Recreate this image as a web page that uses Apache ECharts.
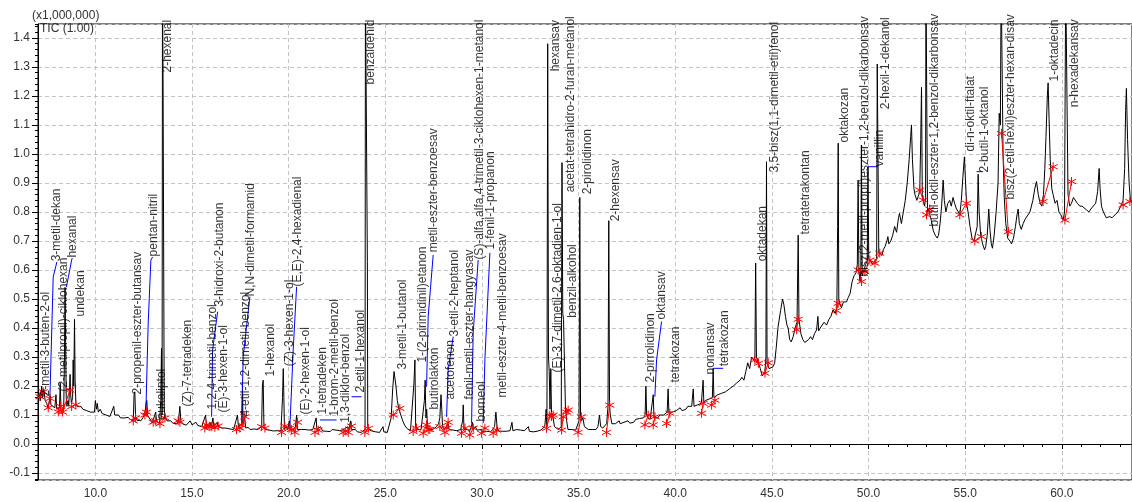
<!DOCTYPE html>
<html><head><meta charset="utf-8">
<script src="https://cdn.jsdelivr.net/npm/echarts@6/dist/echarts.min.js"></script>
<style>html,body{margin:0;padding:0;background:#fff}#c{width:1132px;height:502px}</style>
</head><body><div id="c"></div>
<script>
// Chromatogram trace: [retention time (min), intensity (x1,000,000)]
const trace = [
[7.03,0.158],[7.10,0.17],[7.16,0.15],[7.22,0.20],[7.27,0.16],[7.33,0.19],[7.40,0.15],[7.48,0.14],[7.55,0.125],[7.62,0.13],[7.66,0.165],[7.70,0.135],[7.80,0.13],[7.90,0.125],[7.96,0.17],[8.00,0.12],[8.08,0.115],[8.14,0.125],[8.18,0.21],[8.22,0.12],[8.30,0.11],[8.36,0.12],[8.40,0.30],[8.43,0.54],[8.46,0.35],[8.49,0.16],[8.53,0.13],[8.58,0.15],[8.62,0.13],[8.66,0.19],[8.69,0.24],[8.72,0.17],[8.76,0.14],[8.82,0.16],[8.85,0.29],[8.88,0.20],[8.92,0.43],[8.95,0.22],[8.99,0.14],[9.05,0.13],[9.15,0.125],[9.25,0.13],[9.35,0.12],[9.45,0.125],[9.55,0.115],[9.65,0.12],[9.75,0.11],[9.85,0.115],[9.95,0.11],[10.0,0.15],[10.05,0.12],[10.1,0.14],[10.15,0.11],[10.25,0.12],[10.35,0.105],[10.45,0.11],[10.55,0.10],[10.65,0.105],[10.75,0.095],[10.85,0.10],[10.95,0.13],[11.0,0.10],[11.1,0.095],[11.2,0.10],[11.3,0.09],[11.4,0.095],[11.5,0.09],[11.6,0.088],[11.7,0.092],[11.8,0.085],[11.9,0.088],[11.96,0.08],[12.0,0.17],[12.04,0.18],[12.08,0.09],[12.15,0.082],[12.25,0.085],[12.35,0.08],[12.45,0.09],[12.55,0.10],[12.62,0.14],[12.66,0.15],[12.70,0.10],[12.78,0.09],[12.85,0.085],[12.95,0.075],[13.05,0.08],[13.12,0.11],[13.16,0.08],[13.25,0.075],[13.32,0.07],[13.38,0.15],[13.42,0.33],[13.45,0.10],[13.47,1.6],[13.49,1.6],[13.50,1.26],[13.54,1.26],[13.56,0.12],[13.62,0.09],[13.70,0.08],[13.80,0.075],[13.90,0.08],[14.0,0.072],[14.1,0.075],[14.2,0.07],[14.3,0.08],[14.37,0.13],[14.42,0.08],[14.5,0.07],[14.6,0.072],[14.7,0.065],[14.8,0.07],[14.9,0.08],[15.0,0.066],[15.1,0.07],[15.2,0.075],[15.3,0.064],[15.4,0.068],[15.5,0.06],[15.6,0.062],[15.7,0.10],[15.74,0.065],[15.85,0.06],[15.92,0.075],[16.0,0.06],[16.08,0.09],[16.12,0.06],[16.2,0.058],[16.3,0.075],[16.35,0.06],[16.45,0.065],[16.55,0.055],[16.65,0.06],[16.75,0.055],[16.85,0.058],[16.95,0.052],[17.05,0.056],[17.15,0.05],[17.25,0.055],[17.35,0.10],[17.40,0.06],[17.5,0.055],[17.58,0.07],[17.61,0.20],[17.64,0.07],[17.72,0.09],[17.78,0.055],[17.9,0.058],[18.0,0.05],[18.1,0.055],[18.2,0.052],[18.3,0.056],[18.4,0.05],[18.5,0.055],[18.6,0.06],[18.64,0.20],[18.68,0.22],[18.72,0.06],[18.8,0.05],[18.9,0.055],[19.0,0.048],[19.1,0.052],[19.2,0.045],[19.3,0.05],[19.4,0.046],[19.5,0.05],[19.6,0.045],[19.68,0.16],[19.72,0.26],[19.75,0.16],[19.78,0.05],[19.85,0.06],[19.95,0.05],[20.03,0.08],[20.08,0.05],[20.15,0.048],[20.25,0.05],[20.35,0.06],[20.41,0.10],[20.45,0.05],[20.55,0.046],[20.65,0.05],[20.75,0.045],[20.85,0.05],[20.95,0.044],[21.05,0.048],[21.15,0.044],[21.25,0.05],[21.35,0.046],[21.42,0.09],[21.46,0.05],[21.55,0.048],[21.65,0.06],[21.75,0.045],[21.85,0.05],[21.95,0.044],[22.05,0.048],[22.15,0.043],[22.25,0.05],[22.35,0.044],[22.45,0.048],[22.55,0.042],[22.65,0.046],[22.75,0.042],[22.85,0.05],[22.95,0.044],[23.05,0.06],[23.1,0.045],[23.2,0.08],[23.25,0.05],[23.35,0.045],[23.45,0.05],[23.55,0.042],[23.65,0.046],[23.75,0.04],[23.85,0.045],[23.95,0.05],[23.97,1.6],[24.05,1.6],[24.07,0.63],[24.09,0.06],[24.15,0.05],[24.2,0.05],[24.3,0.045],[24.4,0.048],[24.5,0.042],[24.6,0.046],[24.7,0.04],[24.8,0.045],[24.88,0.06],[24.92,0.042],[25.0,0.044],[25.1,0.04],[25.2,0.045],[25.3,0.09],[25.38,0.19],[25.45,0.25],[25.5,0.255],[25.55,0.20],[25.62,0.15],[25.7,0.12],[25.8,0.10],[25.9,0.08],[26.0,0.065],[26.1,0.055],[26.2,0.05],[26.3,0.045],[26.4,0.05],[26.48,0.21],[26.53,0.29],[26.57,0.06],[26.65,0.05],[26.75,0.045],[26.85,0.05],[26.95,0.045],[27.02,0.15],[27.06,0.22],[27.1,0.09],[27.14,0.12],[27.18,0.06],[27.25,0.05],[27.35,0.055],[27.45,0.05],[27.55,0.055],[27.65,0.06],[27.75,0.07],[27.82,0.09],[27.88,0.17],[27.92,0.12],[27.96,0.06],[28.05,0.05],[28.15,0.055],[28.25,0.07],[28.3,0.05],[28.4,0.045],[28.5,0.048],[28.6,0.044],[28.7,0.046],[28.8,0.042],[28.9,0.05],[29.0,0.08],[29.03,0.135],[29.07,0.05],[29.15,0.045],[29.25,0.05],[29.35,0.042],[29.45,0.06],[29.5,0.075],[29.55,0.05],[29.65,0.06],[29.75,0.048],[29.85,0.044],[29.95,0.05],[30.05,0.042],[30.15,0.048],[30.25,0.044],[30.35,0.046],[30.45,0.042],[30.55,0.05],[30.65,0.06],[30.72,0.11],[30.78,0.06],[30.85,0.045],[30.95,0.05],[31.05,0.044],[31.15,0.048],[31.25,0.044],[31.35,0.05],[31.45,0.046],[31.55,0.075],[31.6,0.046],[31.7,0.044],[31.8,0.05],[31.9,0.044],[32.0,0.048],[32.1,0.042],[32.2,0.046],[32.3,0.044],[32.4,0.06],[32.45,0.044],[32.55,0.046],[32.65,0.042],[32.75,0.046],[32.85,0.044],[32.95,0.045],[33.05,0.048],[33.15,0.05],[33.25,0.06],[33.32,0.12],[33.36,0.06],[33.40,1.38],[33.44,0.30],[33.48,0.25],[33.52,0.12],[33.56,0.26],[33.6,0.10],[33.68,0.09],[33.75,0.06],[33.85,0.055],[33.95,0.05],[34.05,0.045],[34.1,0.06],[34.14,0.97],[34.18,0.45],[34.22,0.43],[34.28,0.43],[34.32,0.12],[34.38,0.08],[34.45,0.05],[34.55,0.045],[34.65,0.05],[34.75,0.045],[34.85,0.048],[34.95,0.05],[35.02,0.08],[35.06,0.85],[35.1,0.10],[35.15,0.08],[35.22,0.09],[35.3,0.06],[35.4,0.055],[35.5,0.05],[35.6,0.055],[35.7,0.05],[35.8,0.055],[35.9,0.05],[36.0,0.06],[36.08,0.10],[36.14,0.06],[36.25,0.055],[36.35,0.06],[36.45,0.07],[36.52,0.13],[36.56,0.77],[36.6,0.13],[36.64,0.10],[36.72,0.07],[36.8,0.065],[36.9,0.07],[37.0,0.065],[37.1,0.08],[37.15,0.07],[37.25,0.068],[37.35,0.075],[37.45,0.07],[37.55,0.08],[37.65,0.072],[37.75,0.078],[37.85,0.075],[37.95,0.085],[38.05,0.08],[38.15,0.088],[38.25,0.082],[38.35,0.09],[38.44,0.10],[38.48,0.20],[38.52,0.10],[38.58,0.09],[38.7,0.085],[38.8,0.09],[38.86,0.17],[38.9,0.09],[39.0,0.095],[39.1,0.09],[39.2,0.1],[39.3,0.095],[39.4,0.10],[39.5,0.1],[39.58,0.11],[39.63,0.19],[39.67,0.11],[39.75,0.105],[39.85,0.11],[39.95,0.105],[40.05,0.115],[40.15,0.11],[40.25,0.125],[40.35,0.115],[40.45,0.12],[40.55,0.12],[40.65,0.13],[40.75,0.125],[40.85,0.13],[40.93,0.19],[40.97,0.13],[41.05,0.13],[41.15,0.135],[41.25,0.14],[41.35,0.14],[41.44,0.22],[41.48,0.14],[41.55,0.15],[41.65,0.145],[41.75,0.155],[41.85,0.15],[41.92,0.16],[41.96,0.26],[42.0,0.16],[42.1,0.16],[42.2,0.17],[42.3,0.165],[42.4,0.175],[42.5,0.17],[42.6,0.18],[42.7,0.175],[42.8,0.19],[42.9,0.185],[43.0,0.2],[43.1,0.195],[43.17,0.21],[43.25,0.205],[43.35,0.22],[43.45,0.23],[43.55,0.22],[43.65,0.25],[43.75,0.28],[43.85,0.26],[43.95,0.30],[44.05,0.29],[44.12,0.30],[44.16,0.624],[44.2,0.30],[44.3,0.28],[44.4,0.26],[44.5,0.235],[44.56,0.23],[44.64,0.25],[44.69,0.30],[44.72,0.973],[44.75,0.28],[44.85,0.26],[44.95,0.255],[45.05,0.266],[45.14,0.278],[45.22,0.33],[45.32,0.405],[45.45,0.46],[45.55,0.50],[45.62,0.48],[45.7,0.44],[45.78,0.41],[45.84,0.40],[45.92,0.36],[46.0,0.352],[46.1,0.37],[46.2,0.40],[46.3,0.42],[46.36,0.72],[46.4,0.43],[46.5,0.38],[46.6,0.36],[46.7,0.35],[46.79,0.347],[46.9,0.36],[47.0,0.37],[47.1,0.36],[47.2,0.38],[47.31,0.393],[47.38,0.44],[47.42,0.39],[47.5,0.40],[47.6,0.395],[47.7,0.42],[47.83,0.41],[47.95,0.43],[48.05,0.44],[48.16,0.462],[48.28,0.45],[48.36,0.47],[48.40,0.75],[48.43,1.037],[48.46,0.50],[48.52,0.48],[48.6,0.47],[48.7,0.49],[48.86,0.49],[48.95,0.505],[49.05,0.52],[49.15,0.56],[49.25,0.58],[49.35,0.59],[49.42,0.62],[49.46,0.91],[49.5,0.60],[49.56,0.56],[49.6,0.60],[49.63,1.03],[49.67,0.58],[49.76,0.60],[49.85,0.62],[49.93,0.63],[49.97,0.955],[50.01,0.64],[50.1,0.63],[50.2,0.62],[50.3,0.625],[50.42,0.64],[50.45,1.31],[50.5,1.31],[50.53,0.66],[50.6,0.66],[50.7,0.65],[50.76,0.67],[50.85,0.68],[50.95,0.70],[51.0,0.715],[51.05,0.69],[51.15,0.70],[51.25,0.72],[51.35,0.75],[51.45,0.73],[51.55,0.78],[51.6,0.795],[51.7,0.76],[51.8,0.80],[51.9,0.84],[52.0,0.90],[52.1,0.98],[52.18,1.06],[52.22,1.10],[52.27,0.98],[52.35,0.88],[52.4,0.86],[52.5,0.84],[52.6,0.86],[52.65,0.88],[52.7,1.05],[52.74,1.23],[52.78,0.86],[52.83,0.84],[52.9,0.82],[52.95,0.85],[52.97,1.6],[53.02,1.6],[53.05,0.80],[53.1,0.81],[53.17,0.81],[53.25,0.77],[53.35,0.735],[53.45,0.72],[53.55,0.71],[53.62,0.72],[53.7,0.76],[53.78,0.82],[53.86,0.91],[53.92,0.84],[54.0,0.80],[54.1,0.83],[54.2,0.84],[54.28,0.82],[54.37,0.85],[54.45,0.83],[54.55,0.81],[54.65,0.80],[54.72,0.79],[54.8,0.84],[54.88,0.92],[54.96,0.99],[55.02,0.90],[55.07,0.83],[55.15,0.80],[55.25,0.75],[55.35,0.71],[55.45,0.70],[55.55,0.70],[55.62,0.75],[55.67,0.93],[55.72,0.80],[55.8,0.72],[55.84,0.715],[55.9,0.69],[56.0,0.67],[56.06,0.68],[56.14,0.72],[56.22,0.81],[56.28,0.74],[56.35,0.69],[56.41,0.675],[56.5,0.72],[56.6,0.80],[56.7,0.90],[56.76,1.14],[56.82,1.10],[56.86,1.6],[56.92,1.6],[56.96,1.0],[57.02,0.85],[57.1,0.76],[57.2,0.71],[57.31,0.70],[57.4,0.69],[57.5,0.71],[57.6,0.75],[57.68,0.79],[57.74,0.81],[57.8,0.76],[57.9,0.74],[58.0,0.76],[58.1,0.775],[58.2,0.78],[58.35,0.80],[58.5,0.84],[58.6,0.88],[58.69,0.905],[58.78,0.86],[58.88,0.83],[58.96,0.82],[59.05,0.86],[59.12,0.95],[59.18,1.06],[59.25,1.20],[59.29,1.245],[59.34,1.12],[59.4,0.98],[59.48,0.88],[59.55,0.86],[59.65,0.83],[59.75,0.84],[59.85,0.80],[59.95,0.79],[60.07,0.772],[60.14,0.80],[60.2,1.6],[60.28,1.6],[60.32,0.86],[60.41,0.82],[60.5,0.83],[60.6,0.85],[60.7,0.845],[60.8,0.83],[60.93,0.82],[61.05,0.82],[61.15,0.815],[61.28,0.807],[61.4,0.80],[61.5,0.81],[61.6,0.81],[61.75,0.83],[61.85,0.87],[61.93,0.95],[61.98,0.88],[62.05,0.82],[62.15,0.80],[62.3,0.78],[62.4,0.775],[62.48,0.784],[62.6,0.78],[62.75,0.79],[62.9,0.80],[63.05,0.82],[63.17,0.84],[63.25,0.95],[63.3,1.15],[63.34,1.226],[63.4,1.05],[63.48,0.90],[63.55,0.84],[63.65,0.83]
];

// Peak labels: compound name, label anchor time, label anchor intensity (text starts here and runs upward)
const compoundNames = [
"2-metil-3-buten-2-ol","3-metil-dekan","(2-metilpropil)-ciklohexan","hexanal","undekan",
"2-propenil-eszter-butansav","pentan-nitril","eukaliptol","2-hexenal","(Z)-7-tetradeken",
"1,2,4-trimetil-benzol","(E)-3-hexen-1-ol","3-hidroxi-2-butanon","4-etil-1,2-dimetil-benzol","N,N-dimetil-formamid",
"1-hexanol","(Z)-3-hexen-1-ol","(E,E)-2,4-hexadienal","(E)-2-hexen-1-ol","1-tetradeken",
"1-brom-2-metil-benzol","1,3-diklor-benzol","2-etil-1-hexanol","benzaldehid","3-metil-1-butanol",
"1-(2-pirimidinil)etanon","butirolakton","metil-eszter-benzoesav","acetofenon","3-etil-2-heptanol",
"fenil-metil-eszter-hangyasav","(S)-alfa,alfa,4-trimetil-3-ciklohexen-1-metanol","borneol","1-fenil-1-propanon","metil-eszter-4-metil-benzoesav",
"hexansav","(E)-3,7-dimetil-2,6-oktadien-1-ol","acetat-tetrahidro-2-furan-metanol","benzil-alkohol","2-pirolidinon",
"2-hexensav","2-pirrolidinon","oktansav","tetrakozan","nonansav",
"tetrakozan","oktadekan","3,5-bisz(1,1-dimetil-etil)fenol","tetratetrakontan","oktakozan",
"bisz(2-metil-propil)eszter-1,2-benzol-dikarbonsav","vanillin","2-hexil-1-dekanol","butil-oktil-eszter-1,2-benzol-dikarbonsav","di-n-oktil-ftalat",
"2-butil-1-oktanol","bisz(2-etil-hexil)eszter-hexan-disav","1-oktadecin","n-hexadekansav"
];
const labelT = [
7.475,8.024,8.386,8.852,9.286,
12.214,13.026,13.476,13.766,14.801,
16.094,16.648,16.441,17.822,18.081,
19.115,20.098,20.492,20.926,21.785,
22.390,22.995,23.771,24.252,25.923,
26.958,27.563,27.512,28.427,28.598,
29.374,29.891,30.031,30.497,31.097,
33.859,33.942,34.635,34.718,35.494,
36.963,38.774,39.343,40.067,41.878,
42.566,44.547,45.152,46.793,48.774,
49.809,50.585,50.931,53.430,55.328,
56.016,57.398,59.638,60.672
];
const labelY = [
0.162,0.628,0.179,0.641,0.438,
0.169,0.645,0.083,1.279,0.128,
0.117,0.107,0.472,0.093,0.507,
0.231,0.266,0.541,0.100,0.100,
0.093,0.072,0.176,1.238,0.255,
0.279,0.117,0.659,0.152,0.369,
0.152,0.634,0.076,0.669,0.159,
1.283,0.245,0.866,0.434,0.859,
0.766,0.210,0.428,0.210,0.238,
0.266,0.628,0.934,0.721,1.038,
0.576,0.955,1.152,0.748,1.007,
0.934,0.841,1.248,1.159
];

// Blue leader lines from peak to displaced label
const leaders = [
[[7.646,0.162],[7.817,0.576],[8.008,0.628]],
[[8.50,0.541],[8.77,0.634],[8.80,0.641]],
[[12.613,0.117],[12.731,0.417],[12.871,0.634],[12.959,0.645]],
[[16.011,0.094],[16.063,0.324],[16.322,0.456]],
[[17.563,0.072],[17.646,0.301],[17.993,0.508]],
[[20.062,0.060],[20.233,0.324],[20.409,0.542]],
[[21.614,0.083],[22.478,0.083]],
[[23.254,0.163],[23.771,0.163]],
[[27.134,0.198],[27.217,0.439],[27.476,0.652]],
[[28.169,0.094],[28.252,0.255],[28.510,0.370]],
[[29.462,0.072],[29.545,0.383],[29.803,0.634]],
[[30.062,0.072],[30.150,0.290],[30.409,0.659]],
[[38.945,0.163],[39.033,0.290],[39.291,0.422]],
[[41.961,0.261],[42.478,0.261]],
[[49.964,0.956],[50.481,0.956]],
[[55.587,0.939],[55.929,0.939]]
];

// Integration start / end markers (red asterisks joined by baseline)
const markStartT = [7.13,7.56,8.08,8.30,8.77,11.96,12.56,12.99,13.34,14.28,15.66,15.92,16.18,17.30,17.58,18.60,19.63,20.06,20.32,21.36,22.82,23.08,23.94,25.41,26.44,26.96,27.22,27.82,28.18,28.94,29.37,29.98,30.58,33.34,33.60,34.12,34.38,34.97,36.44,38.43,38.86,39.55,41.36,41.88,44.12,44.64,46.28,48.33,49.46,49.81,50.33,52.65,53.00,54.72,55.50,56.88,59.03,60.16,63.17];
const markStartY = [0.163,0.125,0.111,0.11,0.129,0.08,0.10,0.075,0.07,0.08,0.055,0.06,0.058,0.05,0.065,0.06,0.04,0.055,0.04,0.04,0.04,0.04,0.04,0.10,0.043,0.037,0.05,0.06,0.055,0.037,0.031,0.037,0.037,0.054,0.095,0.048,0.11,0.04,0.04,0.066,0.066,0.071,0.106,0.134,0.29,0.244,0.394,0.46,0.60,0.594,0.623,0.876,0.79,0.79,0.70,1.071,0.836,0.772,0.824];
const markEndT = [7.30,7.65,8.20,8.68,8.99,12.08,12.64,13.10,13.60,14.37,15.75,16.02,16.35,17.47,17.73,18.77,19.80,20.14,20.46,21.53,22.95,23.25,24.12,25.75,26.61,27.13,27.30,28.08,28.25,29.12,29.55,30.15,30.76,33.51,33.68,34.20,34.46,35.14,36.61,38.60,38.95,39.72,41.44,42.05,44.30,44.81,46.36,48.43,49.64,50.07,50.58,52.83,53.17,55.07,55.84,57.23,59.55,60.50,63.52];
const markEndY = [0.18,0.157,0.13,0.186,0.135,0.09,0.11,0.08,0.09,0.075,0.066,0.06,0.062,0.055,0.094,0.055,0.062,0.05,0.075,0.048,0.045,0.062,0.054,0.123,0.055,0.066,0.05,0.04,0.075,0.055,0.055,0.055,0.048,0.10,0.10,0.094,0.117,0.094,0.134,0.10,0.094,0.106,0.14,0.151,0.278,0.28,0.43,0.485,0.56,0.634,0.658,0.841,0.81,0.83,0.715,0.732,0.956,0.905,0.836];

const FONT = "'Liberation Sans', Arial, sans-serif";
const chart = echarts.init(document.getElementById('c'), null, {renderer: 'canvas'});

const labelData = compoundNames.map((n, i) => ({name: n, value: [labelT[i], labelY[i]]}));
const markPoints = [];
const baseSegs = [];
markStartT.forEach((t, i) => {
  markPoints.push([t, markStartY[i]]);
  markPoints.push([markEndT[i], markEndY[i]]);
  baseSegs.push({coords: [[t, markStartY[i]], [markEndT[i], markEndY[i]]]});
});

const xMin = 7.03, xMax = 63.63, yMin = -0.124, yMax = 1.448;
const gridLine = {show: true, lineStyle: {color: '#c4c4c4', type: [4, 3], width: 1}};

chart.setOption({
  animation: false,
  backgroundColor: '#fff',
  grid: {left: 38, right: 0, top: 24, bottom: 22, show: true, borderColor: '#000', borderWidth: 1, containLabel: false, outerBoundsMode: 'none'},
  xAxis: [
    {type: 'value', min: xMin, max: xMax, splitNumber: 11, position: 'bottom',
     axisLine: {show: true, lineStyle: {color: '#000', width: 1}},
     axisTick: {show: true, length: 5, lineStyle: {color: '#000'}},
     axisLabel: {formatter: v => v.toFixed(1), color: '#333', fontSize: 12, fontFamily: FONT, margin: 8, showMinLabel: false, showMaxLabel: false},
     splitLine: gridLine},
    {type: 'value', min: xMin, max: xMax, splitNumber: 56, position: 'bottom', offset: 0,
     axisLine: {show: false}, axisTick: {show: true, length: 3, lineStyle: {color: '#000'}},
     axisLabel: {show: false}, splitLine: {show: false}}
  ],
  yAxis: [
    {type: 'value', min: yMin, max: yMax, splitNumber: 15, position: 'left',
     axisLine: {show: true, lineStyle: {color: '#000', width: 1}},
     axisTick: {show: true, length: 6, lineStyle: {color: '#000'}},
     axisLabel: {formatter: v => v.toFixed(1), color: '#333', fontSize: 12, fontFamily: FONT, margin: 8, showMinLabel: false, showMaxLabel: false},
     splitLine: gridLine},
    {type: 'value', min: yMin, max: yMax, splitNumber: 78, position: 'left', offset: 0,
     axisLine: {show: false}, axisTick: {show: true, length: 3, lineStyle: {color: '#000'}},
     axisLabel: {show: false}, splitLine: {show: false}}
  ],
  graphic: [
    {type: 'text', left: 32, top: 10, style: {text: '(x1,000,000)', font: '12px ' + FONT, fill: '#333'}},
    {type: 'text', left: 40, top: 23, style: {text: 'TIC (1.00)', font: '12px ' + FONT, fill: '#333'}, z: 100}
  ],
  series: [
    {type: 'line', name: 'TIC', xAxisIndex: 0, yAxisIndex: 0, data: trace, symbol: 'none', showSymbol: false,
     lineStyle: {color: '#000', width: 1}, clip: true, silent: true, z: 3},
    {type: 'lines', coordinateSystem: 'cartesian2d', polyline: true, data: leaders.map(c => ({coords: c})),
     lineStyle: {color: '#0000ff', width: 1, opacity: 1}, silent: true, z: 4},
    {type: 'lines', coordinateSystem: 'cartesian2d', data: baseSegs,
     lineStyle: {color: '#ff0000', width: 1, opacity: 1}, silent: true, z: 5},
    {type: 'scatter', data: markPoints, symbol: 'path://M5,0L5,10M0.67,2.5L9.33,7.5M0.67,7.5L9.33,2.5', symbolSize: 9,
     itemStyle: {color: 'rgba(0,0,0,0)', borderColor: '#ff0000', borderWidth: 1, opacity: 1}, silent: true, z: 6},
    {type: 'scatter', data: labelData, symbolSize: 1, itemStyle: {color: 'rgba(0,0,0,0)'}, silent: true, z: 7, clip: false,
     label: {show: true, formatter: p => p.name, position: [0, 0], rotate: 90, align: 'left', verticalAlign: 'middle',
             color: '#000', fontSize: 12, fontFamily: FONT}}
  ]
});
</script>
</body></html>
